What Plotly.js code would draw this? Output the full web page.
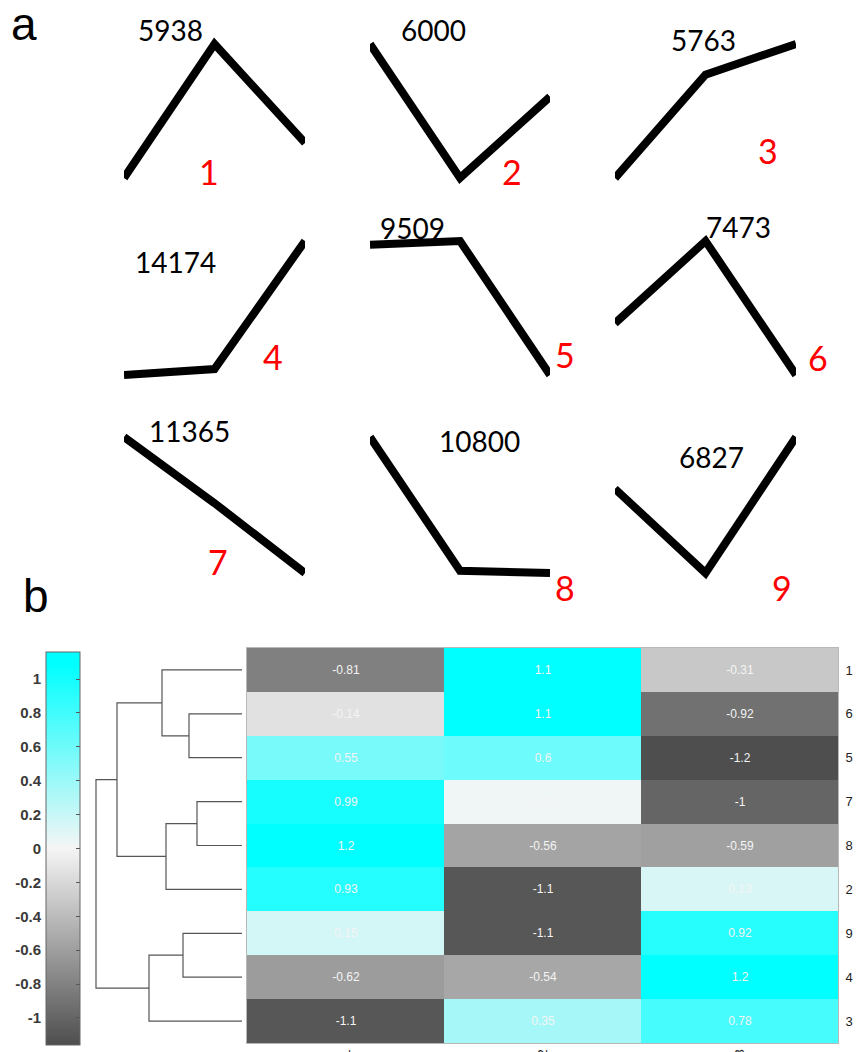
<!DOCTYPE html>
<html><head><meta charset="utf-8">
<script src="https://cdn.plot.ly/plotly-3.0.1.min.js"></script>
<style>html,body{margin:0;padding:0;background:#fff}</style>
</head><body><div id="chart" style="width:856px;height:1052px"></div>
<script>
// ---- data ----
const clusterIds = ['1','2','3','4','5','6','7','8','9'];
const geneCounts = [5938, 6000, 5763, 14174, 9509, 7473, 11365, 10800, 6827];
const cond1 = [-0.81, 0.93, -1.1, -0.62, 0.55, -0.14, 0.99, 1.2, 0.15];
const cond2 = [1.1, -1.1, 0.35, -0.54, 0.6, 1.1, 0.022, -0.56, -1.1];
const cond3 = [-0.31, 0.13, 0.78, 1.2, -1.2, -0.92, -1, -0.59, 0.92];
const conditionLabels = ['1', '2', '3'];
const rowOrder = ['1', '6', '5', '7', '8', '2', '9', '4', '3'];
// dendrogram linkage (leaves 0-8 = heatmap rows top->bottom, internal nodes 9+)
const linkA = [1, 0, 3, 11, 10, 6, 14, 13];
const linkB = [2, 9, 4, 5, 12, 7, 8, 15];
const linkH = [53, 80, 45, 76, 125, 59, 93, 146];
const cbTicks = [-1, -0.8, -0.6, -0.4, -0.2, 0, 0.2, 0.4, 0.6, 0.8, 1];
const cbTickText = ['-1', '-0.8', '-0.6', '-0.4', '-0.2', '0', '0.2', '0.4', '0.6', '0.8', '1'];

// ---- geometry helpers ----
const W = 856, H = 1052;
const px = x => x / W;
const py = y => 1 - y / H;
const ZMIN = -1.16, ZMAX = 1.16;

const traces = [];
const layout = {
  width: W, height: H, margin: {l: 0, r: 0, t: 0, b: 0},
  paper_bgcolor: '#fff', plot_bgcolor: 'rgba(0,0,0,0)',
  showlegend: false, annotations: []
};

// ---- panel a: 9 profiles ----
const colsX = [[124, 305], [370, 550], [615, 796]];
const rowsY = [[44, 178], [241, 375], [437, 573]];
const countPos = [[170, 30], [433, 30], [703, 40], [175, 262], [412, 228], [738, 227], [189, 431], [480, 441], [711, 457]];
const idPos = [[209, 172], [512, 172], [768, 150], [273, 356], [565, 355], [818, 357], [218, 561], [565, 587], [782, 587]];
const xIdx = conditionLabels.map((_, i) => i + 1);
const PAD = 12;
clusterIds.forEach((cid, i) => {
  const r = Math.floor(i / 3), c = i % 3;
  const vals = [cond1[i], cond2[i], cond3[i]];
  const mn = Math.min(...vals), mx = Math.max(...vals), span = mx - mn;
  const [top, bot] = rowsY[r];
  const h = bot - top;
  const n = i + 1;
  traces.push({
    type: 'scatter', mode: 'lines', x: xIdx, y: vals,
    xaxis: 'x' + n, yaxis: 'y' + n,
    line: {color: '#000', width: 8}, hoverinfo: 'skip'
  });
  layout['xaxis' + n] = {domain: [px(colsX[c][0]), px(colsX[c][1])], range: [1, 3], visible: false, anchor: 'y' + n, fixedrange: true};
  layout['yaxis' + n] = {domain: [py(bot + PAD), py(top - PAD)], range: [mn - span * PAD / h, mx + span * PAD / h], visible: false, anchor: 'x' + n, fixedrange: true};
  layout.annotations.push({
    text: String(geneCounts[i]), xref: 'paper', yref: 'paper',
    x: px(countPos[i][0]), y: py(countPos[i][1]), xanchor: 'center', yanchor: 'middle',
    showarrow: false, font: {family: 'Lato, "Open Sans", sans-serif', size: 28, color: '#000'}
  });
  layout.annotations.push({
    text: cid, xref: 'paper', yref: 'paper',
    x: px(idPos[i][0]), y: py(idPos[i][1]), xanchor: 'center', yanchor: 'middle',
    showarrow: false, font: {family: 'Lato, "Open Sans", sans-serif', size: 34, color: '#ff0000'}
  });
});

// panel letters
layout.annotations.push({text: 'a', xref: 'paper', yref: 'paper', x: px(9), y: py(24), xanchor: 'left', yanchor: 'middle', showarrow: false, font: {family: '"Liberation Sans", Arial, sans-serif', size: 46, color: '#000'}});
layout.annotations.push({text: 'b', xref: 'paper', yref: 'paper', x: px(21), y: py(596), xanchor: 'left', yanchor: 'middle', showarrow: false, font: {family: '"Liberation Sans", Arial, sans-serif', size: 46, color: '#000'}});

// ---- panel b: heatmap ----
const rowIdx = rowOrder.map((_, i) => i);
const colIdx = conditionLabels.map((_, i) => i);
const z = rowOrder.map(lab => {
  const k = clusterIds.indexOf(lab);
  return [cond1[k], cond2[k], cond3[k]];
});
const txt = z.map(row => row.map(v => String(v)));
const colorscale = [[0, '#4e4e4e'], [0.5, '#f5f5f5'], [0.97, '#00ffff'], [1, '#00ffff']];
traces.push({
  type: 'heatmap', z: z, x: colIdx, y: rowIdx, text: txt, texttemplate: '%{text}',
  textfont: {family: '"Liberation Sans", Arial, sans-serif', size: 12, color: '#f4f4f4'},
  colorscale: colorscale, zmin: ZMIN, zmax: ZMAX, xaxis: 'x10', yaxis: 'y10', hoverinfo: 'skip',
  colorbar: {
    x: px(46), xanchor: 'left', xref: 'paper', xpad: 0,
    y: py(848.5), yanchor: 'middle', yref: 'paper', ypad: 0,
    len: 393, lenmode: 'pixels', thickness: 34, thicknessmode: 'pixels',
    outlinewidth: 1, outlinecolor: '#666',
    ticks: 'inside', ticklen: 4, tickcolor: '#555', tickwidth: 1,
    tickmode: 'array', tickvals: cbTicks, showticklabels: false
  }
});
layout.xaxis10 = {
  domain: [px(247), px(838)], range: [-0.5, colIdx.length - 0.5], anchor: 'y10',
  tickmode: 'array', tickvals: colIdx, ticktext: conditionLabels, tickangle: -90,
  ticks: '', showgrid: false, zeroline: false, showline: true, mirror: true, linecolor: '#b8b8b8', linewidth: 1,
  tickfont: {family: '"Liberation Sans", Arial, sans-serif', size: 13, color: '#222'}, fixedrange: true
};
layout.yaxis10 = {
  domain: [py(1043), py(648)], range: [rowIdx.length - 0.5, -0.5], anchor: 'x10', side: 'right',
  tickmode: 'array', tickvals: rowIdx, ticktext: rowOrder, ticks: '', ticklabelstandoff: 4,
  showgrid: false, zeroline: false, showline: true, mirror: true, linecolor: '#b8b8b8', linewidth: 1,
  tickfont: {family: '"Liberation Sans", Arial, sans-serif', size: 13, color: '#222'}, fixedrange: true
};

// ---- dendrogram ----
const nodeY = rowIdx.slice();
const nodeH = rowIdx.map(() => 0);
const dx = [], dy = [];
linkA.forEach((a, k) => {
  const b = linkB[k], hh = linkH[k];
  dx.push(nodeH[a], hh, hh, nodeH[b], null);
  dy.push(nodeY[a], nodeY[a], nodeY[b], nodeY[b], null);
  nodeY.push((nodeY[a] + nodeY[b]) / 2);
  nodeH.push(hh);
});
traces.push({
  type: 'scatter', mode: 'lines', x: dx, y: dy, xaxis: 'x11', yaxis: 'y10',
  line: {color: '#555', width: 1.2}, hoverinfo: 'skip', cliponaxis: false
});
layout.xaxis11 = {domain: [px(92), px(242)], range: [150, 0], anchor: 'y10', visible: false, fixedrange: true};

// ---- colorbar tick labels on the left side ----
traces.push({
  type: 'scatter', mode: 'markers', x: cond1.map(() => 0.5), y: cond1,
  xaxis: 'x12', yaxis: 'y12', marker: {size: 1, opacity: 0}, hoverinfo: 'skip'
});
layout.xaxis12 = {domain: [px(46), px(80)], range: [0, 1], visible: false, anchor: 'y12', fixedrange: true};
layout.yaxis12 = {
  domain: [py(1045), py(652)], range: [ZMIN, ZMAX], anchor: 'x12', side: 'left',
  tickmode: 'array', tickvals: cbTicks, ticktext: cbTickText, ticklabelstandoff: 4,
  ticks: 'inside', ticklen: 4, tickcolor: '#555', showgrid: false, zeroline: false, showline: false,
  tickfont: {family: '"Liberation Sans", Arial, sans-serif', size: 15, color: '#3a3a3a', weight: 'bold'}, fixedrange: true
};

Plotly.newPlot('chart', traces, layout, {staticPlot: true, displayModeBar: false});
</script></body></html>
